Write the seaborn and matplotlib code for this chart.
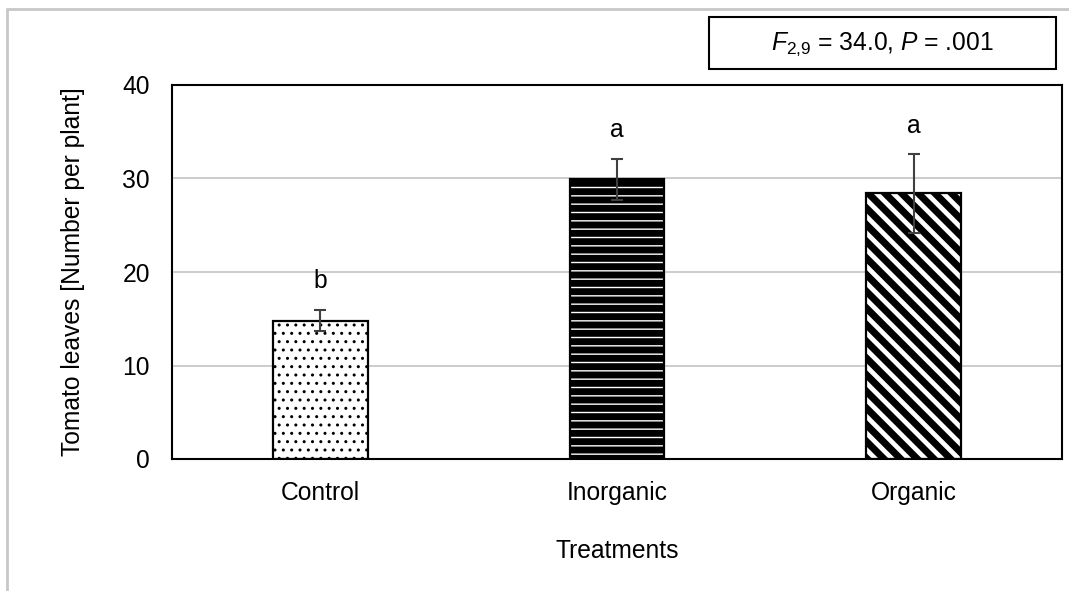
import matplotlib
matplotlib.use("Agg")
import matplotlib.pyplot as plt
from matplotlib.patches import Rectangle
from matplotlib.lines import Line2D
import seaborn as sns
import pandas as pd

# ---- data ----
treatments = ["Control", "Inorganic", "Organic"]
means = [14.8, 29.9, 28.4]
errors = [1.15, 2.2, 4.2]
letters = ["b", "a", "a"]
yticks = [0, 10, 20, 30, 40]
stat_text = r"$F_{2{,}9}$ = 34.0, $P$ = .001"

sns.set_style("white")
plt.rcParams["font.family"] = ["Liberation Sans", "DejaVu Sans"]
plt.rcParams["mathtext.fontset"] = "custom"
plt.rcParams["mathtext.rm"] = "Liberation Sans"
plt.rcParams["mathtext.it"] = "Liberation Sans:italic"
plt.rcParams["hatch.linewidth"] = 1.5
for k in ["text.color", "axes.labelcolor", "xtick.color", "ytick.color"]:
    plt.rcParams[k] = "black"

FS = 17.7
df = pd.DataFrame({"Treatment": treatments, "Leaves": means})

W, H = 1069, 591
fig = plt.figure(figsize=(W / 100, H / 100), dpi=100)
ax = fig.add_axes([172 / W, 1 - 459 / H, 890 / W, 374 / H])

ax.set_axisbelow(True)
ax.yaxis.grid(True, color="#c8c8c8", linewidth=1.3)

# layer 1: fills + hatches
n0 = len(ax.patches)
sns.barplot(data=df, x="Treatment", y="Leaves", width=0.32, errorbar=None,
            color="white", ax=ax)
fill_patches = ax.patches[n0:]
styles = [
    dict(face="white", hatch="..", hcol="black", hlw=1.0),
    dict(face="black", hatch="--", hcol="white", hlw=1.0),
    dict(face="black", hatch="\\\\", hcol="white", hlw=3.4),
]
for p, st in zip(fill_patches, styles):
    p.set_facecolor(st["face"])
    p.set_edgecolor(st["hcol"])
    p.set_hatch(st["hatch"])
    p.set_linewidth(0)
    if hasattr(p, "set_hatch_linewidth"):
        p.set_hatch_linewidth(st["hlw"])

# layer 2: outlines
n1 = len(ax.patches)
sns.barplot(data=df, x="Treatment", y="Leaves", width=0.32, errorbar=None,
            color="white", ax=ax)
for p in ax.patches[n1:]:
    p.set_facecolor("none")
    p.set_edgecolor("black")
    p.set_linewidth(1.6)

xpos = list(range(len(treatments)))
ax.errorbar(xpos, means, yerr=errors, fmt="none", ecolor="#404040",
            elinewidth=1.5, capsize=4.3, capthick=1.5, zorder=5)

for x, m, e, lab in zip(xpos, means, errors, letters):
    ax.annotate(lab, xy=(x, m + e), xytext=(0, 12), textcoords="offset points",
                ha="center", va="bottom", fontsize=FS)

ax.set_ylim(0, 40)
ax.set_yticks(yticks)
ax.set_xlim(-0.5, 2.5)
ax.tick_params(axis="both", length=0, labelsize=FS)
ax.tick_params(axis="y", pad=16)
ax.tick_params(axis="x", pad=16)
for s in ax.spines.values():
    s.set_visible(True)
    s.set_color("black")
    s.set_linewidth(1.5)

ax.set_xlabel("Treatments", fontsize=FS)
ax.set_ylabel("Tomato leaves [Number per plant]", fontsize=FS)
ax.xaxis.label.set_va("center")
ax.yaxis.label.set_va("center")
ax.xaxis.set_label_coords(0.5, (459 - 551) / 374)
ax.yaxis.set_label_coords((73 - 172) / 890, 0.5)

# stats box
fig.add_artist(Rectangle((709 / W, 1 - 69 / H), 347 / W, 52 / H,
                         transform=fig.transFigure, facecolor="white",
                         edgecolor="black", linewidth=1.5))
fig.text(882 / W, 1 - 44 / H, stat_text, ha="center", va="center", fontsize=FS)

# faint outer border (top and left)
fig.add_artist(Line2D([7 / W, 1], [1 - 9 / H, 1 - 9 / H], transform=fig.transFigure,
                      color="#c8c8c8", linewidth=2))
fig.add_artist(Line2D([7 / W, 7 / W], [0, 1 - 9 / H], transform=fig.transFigure,
                      color="#c8c8c8", linewidth=2))

fig.savefig("out.png", dpi=100)
